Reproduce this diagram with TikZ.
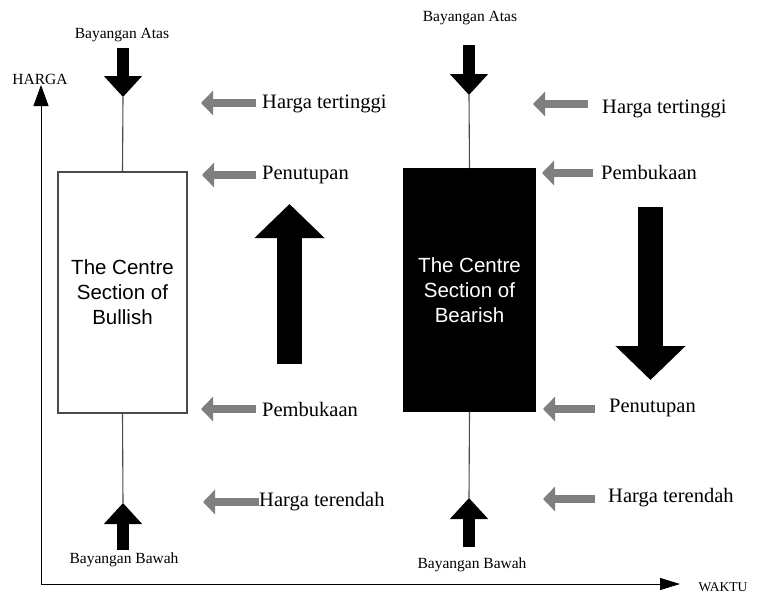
\documentclass[tikz,border=0pt]{standalone}
\usepackage{fontspec}
\setmainfont{Liberation Serif}
\setsansfont{Liberation Sans}
\usetikzlibrary{arrows.meta}
\definecolor{arrowgray}{HTML}{7F7F7F}
\definecolor{edgegray}{HTML}{4A4A4A}
\tikzset{
  lbl/.style={anchor=west, inner sep=0pt, font=\fontsize{20.5}{24}\selectfont},
  tag/.style={inner sep=0pt, font=\fontsize{15.5}{18}\selectfont},
  body/.style={rectangle, draw=edgegray, line width=1.3pt, align=center,
    font=\sffamily\fontsize{20.5}{25}\selectfont},
  wick/.style={edgegray, line width=1.1pt},
  pointer/.style={arrowgray, line width=8pt, -{Triangle[width=24pt,length=12pt]}},
  shadow/.style={line width=12pt, -{Triangle[width=37pt,length=21pt]}},
  trend/.style={line width=25pt, -{Triangle[width=68pt,length=34pt]}},
  axis/.style={line width=1pt, {Triangle[width=15pt,length=21pt]}-{Triangle[width=12pt,length=20pt]}}
}
\begin{document}
\begin{tikzpicture}[x=1pt, y=-1pt]
      \useasboundingbox (0,0) rectangle (758,595);
      % axes
      \coordinate (o) at (41,584);
      \coordinate (ytip) at (41,85);
      \coordinate (xtip) at (680,584);
      \draw[axis] (ytip) -- (o) -- (xtip);
      \node (harga)[tag] at (40,79) {HARGA};
      \node (waktu)[tag, font=\fontsize{13.5}{16}\selectfont] at (723,587) {WAKTU};
      % bullish candle
      \node (bull)[body, minimum width=129pt, minimum height=241pt] at (122.5,292.5) {The Centre\\Section of\\Bullish};
      \coordinate (bullhi) at (123,97);
      \coordinate (bulllo) at (123,503);
      \coordinate (bulltop) at (123,48);
      \coordinate (bullbot) at (123,550);
      \draw[wick] (bull.north) -- (bullhi);
      \draw[wick] (bull.south) -- (bulllo);
      \draw[shadow] (bulltop) -- (bullhi);
      \draw[shadow] (bullbot) -- (bulllo);
      \node (bullatas)[tag] at (122,35) {Bayangan Atas};
      \node (bullbawah)[tag] at (124,560) {Bayangan Bawah};
      \coordinate (upfrom) at (289.5,364);
      \coordinate (upto) at (289.5,204);
      \draw[trend] (upfrom) -- (upto);
      % bullish pointers
      \node (lh1)[lbl] at (262,104) {Harga tertinggi};
      \node (lh2)[lbl] at (262,175) {Penutupan};
      \node (lh3)[lbl] at (262,409) {Pembukaan};
      \node (lh4)[lbl] at (259,502) {Harga terendah};
      \coordinate (la1) at (256,103);
      \coordinate (lb1) at (201,103);
      \coordinate (la2) at (256,175);
      \coordinate (lb2) at (202,175);
      \coordinate (la3) at (256,409);
      \coordinate (lb3) at (201,409);
      \coordinate (la4) at (259,502);
      \coordinate (lb4) at (203,502);
      \draw[pointer] (la1) -- (lb1);
      \draw[pointer] (la2) -- (lb2);
      \draw[pointer] (la3) -- (lb3);
      \draw[pointer] (la4) -- (lb4);
      % bearish candle
      \node (bear)[body, draw=black, fill=black, text=white, minimum width=131pt, minimum height=242pt] at (469.5,290) {The Centre\\Section of\\Bearish};
      \coordinate (bearhi) at (469,95);
      \coordinate (bearlo) at (469,498);
      \coordinate (beartop) at (469,45);
      \coordinate (bearbot) at (469,547);
      \draw[wick] (bear.north) -- (bearhi);
      \draw[wick] (bear.south) -- (bearlo);
      \draw[shadow] (beartop) -- (bearhi);
      \draw[shadow] (bearbot) -- (bearlo);
      \node (bearatas)[tag] at (470,18) {Bayangan Atas};
      \node (bearbawah)[tag] at (472,565) {Bayangan Bawah};
      \coordinate (downfrom) at (650.5,207);
      \coordinate (downto) at (650.5,380);
      \draw[trend] (downfrom) -- (downto);
      % bearish pointers
      \node (rh1)[lbl] at (602,109) {Harga tertinggi};
      \node (rh2)[lbl] at (601,172) {Pembukaan};
      \node (rh3)[lbl] at (609,408) {Penutupan};
      \node (rh4)[lbl] at (608,498) {Harga terendah};
      \coordinate (ra1) at (588,104);
      \coordinate (rb1) at (533,104);
      \coordinate (ra2) at (593,173);
      \coordinate (rb2) at (542,173);
      \coordinate (ra3) at (595,409);
      \coordinate (rb3) at (543,409);
      \coordinate (ra4) at (595,499);
      \coordinate (rb4) at (543,499);
      \draw[pointer] (ra1) -- (rb1);
      \draw[pointer] (ra2) -- (rb2);
      \draw[pointer] (ra3) -- (rb3);
      \draw[pointer] (ra4) -- (rb4);
\end{tikzpicture}
\end{document}
